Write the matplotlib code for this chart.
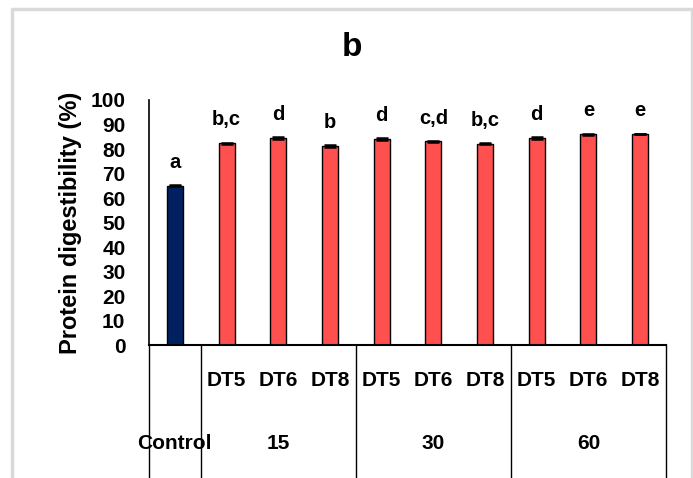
import numpy as np
import matplotlib
matplotlib.use("Agg")
import matplotlib.pyplot as plt
from matplotlib.lines import Line2D

plt.rcParams["font.family"] = ["Liberation Sans", "DejaVu Sans"]
plt.rcParams["font.weight"] = "bold"

# data
treatments = ["Control", "DT5", "DT6", "DT8", "DT5", "DT6", "DT8", "DT5", "DT6", "DT8"]
digestibility = [65.0, 82.3, 84.4, 81.2, 84.1, 83.1, 82.2, 84.5, 86.0, 86.1]
errors = [0.3, 0.3, 0.3, 0.3, 0.3, 0.3, 0.3, 0.3, 0.3, 0.0]
letters = ["a", "b,c", "d", "b", "d", "c,d", "b,c", "d", "e", "e"]
groups = ["Control", "15", "30", "60"]
group_spans = [(0, 0), (1, 3), (4, 6), (7, 9)]

colors = ["#002060"] + ["#FF5050"] * 9

fig = plt.figure(figsize=(6.93, 4.78), dpi=100)
ax = fig.add_axes([0.215, 0.2782, 0.746, 0.5126])

x = np.arange(len(digestibility))
ax.bar(x, digestibility, width=0.31, color=colors, edgecolor="black", linewidth=1, zorder=2)
ax.errorbar(x, digestibility, yerr=errors, fmt="none", ecolor="black",
            capsize=4.5, capthick=1.8, elinewidth=1, zorder=3)

for xi, v, lab in zip(x, digestibility, letters):
    ax.annotate(lab, (xi, v), xytext=(0, 10), textcoords="offset points",
                ha="center", va="bottom", fontsize=14.5, fontweight="bold")

ax.set_xlim(-0.5, 9.5)
ax.set_ylim(0, 100)
ax.set_yticks(np.arange(0, 101, 10))
ax.tick_params(axis="y", length=0, labelsize=15, pad=17)
ax.set_xticks([])
for s in ["top", "right"]:
    ax.spines[s].set_visible(False)
ax.spines["left"].set_linewidth(1.2)
ax.spines["bottom"].set_linewidth(1.5)

ax.set_ylabel("Protein digestibility (%)", fontsize=17, fontweight="bold", labelpad=6)
fig.text(352 / 693, 1 - 47 / 478, "b", ha="center", va="center",
         fontsize=24, fontweight="bold")

# category table under the axis
trans = ax.get_xaxis_transform()
bottom = -0.56
for b in [-0.5, 0.5, 3.5, 6.5, 9.5]:
    ax.add_line(Line2D([b, b], [0, bottom], transform=trans, color="black",
                       linewidth=1, clip_on=False))
for xi, t in zip(x[1:], treatments[1:]):
    ax.text(xi, -0.145, t, transform=trans, ha="center", va="center",
            fontsize=15, fontweight="bold")
for g, (a, b) in zip(groups, group_spans):
    ax.text((a + b) / 2, -0.4, g, transform=trans, ha="center", va="center",
            fontsize=15, fontweight="bold")

# light frame around the figure
fx = [12 / 693, 12 / 693, 692 / 693, 692 / 693]
fy = [0.0, 1 - 9 / 478, 1 - 9 / 478, 0.0]
fig.add_artist(Line2D(fx, fy, transform=fig.transFigure, color="#d9d9d9", linewidth=2.5))

fig.savefig("out.png", dpi=100)
